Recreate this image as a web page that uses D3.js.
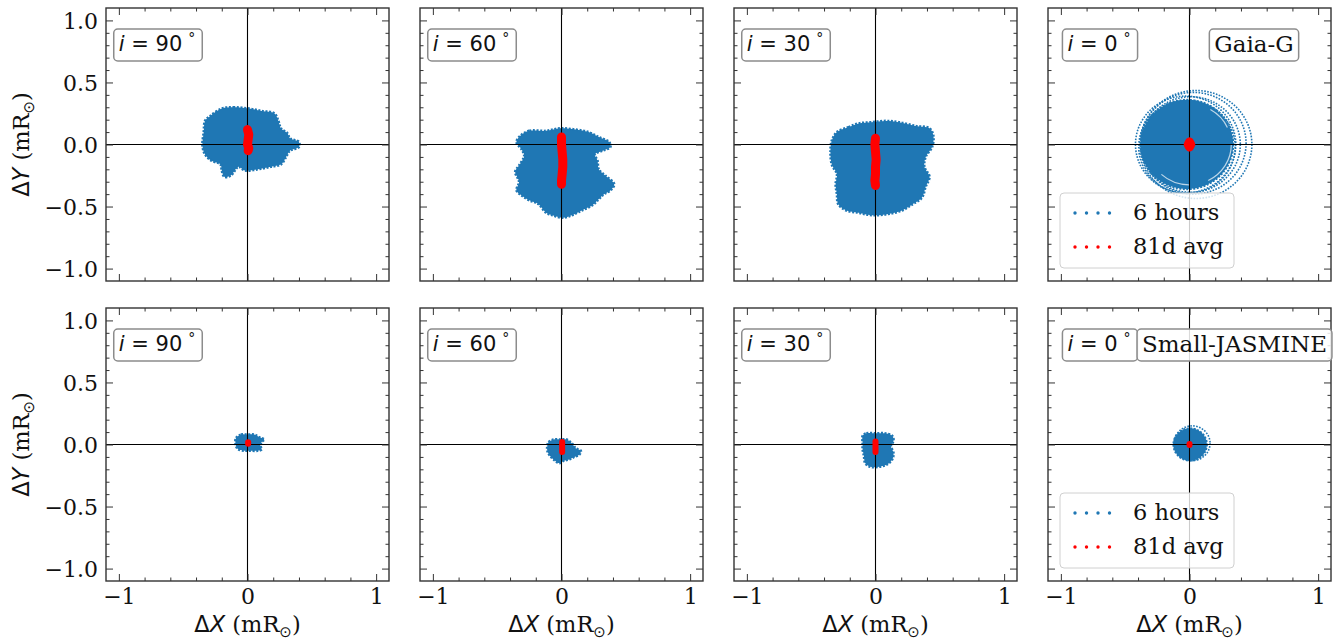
<!DOCTYPE html>
<html><head><meta charset="utf-8">
<script src="https://cdn.jsdelivr.net/npm/d3@7"></script>
<style>body{margin:0;background:#fff}svg{display:block}</style>
</head><body>
<svg id="c" width="1343" height="642"></svg>
<script>
// ---------------- data ----------------
const inclinations = [90, 60, 30, 0];
const missions = ["Gaia-G", "Small-JASMINE"];
const xMajorTicks = [-1, 0, 1];
const xTickLabels = ["−1", "0", "1"];
const yMajorTicks = [-1, -0.5, 0, 0.5, 1];
const yTickLabels = ["−1.0", "−0.5", "0.0", "0.5", "1.0"];
const xMinorTicks = [-0.8, -0.6, -0.4, -0.2, 0.2, 0.4, 0.6, 0.8];
const yMinorTicks = [-0.9, -0.8, -0.7, -0.6, -0.4, -0.3, -0.2, -0.1, 0.1, 0.2, 0.3, 0.4, 0.6, 0.7, 0.8, 0.9];
const legendLabels = ["6 hours", "81d avg"];

// Gaia-G, 6-hour samples: outline of the scatter cloud (ΔX, ΔY)
const gaiaCloud90 = [[-0.20,0.29],[-0.11,0.30],[0.01,0.29],[0.11,0.27],[0.21,0.25],[0.24,0.19],[0.26,0.13],[0.31,0.09],[0.33,0.05],[0.40,0.02],[0.40,-0.02],[0.33,-0.05],[0.30,-0.10],[0.26,-0.16],[0.18,-0.18],[0.08,-0.20],[-0.02,-0.21],[-0.07,-0.18],[-0.13,-0.25],[-0.18,-0.26],[-0.20,-0.21],[-0.21,-0.16],[-0.28,-0.13],[-0.33,-0.08],[-0.35,-0.01],[-0.34,0.10],[-0.33,0.19],[-0.29,0.23]];
const gaiaCloud60 = [[-0.32,0.07],[-0.25,0.11],[-0.12,0.11],[-0.01,0.13],[0.11,0.12],[0.21,0.10],[0.29,0.06],[0.37,0.02],[0.38,-0.02],[0.32,-0.05],[0.26,-0.08],[0.28,-0.13],[0.29,-0.20],[0.34,-0.25],[0.41,-0.32],[0.38,-0.37],[0.33,-0.40],[0.29,-0.44],[0.24,-0.49],[0.16,-0.53],[0.08,-0.57],[0.01,-0.59],[-0.07,-0.57],[-0.12,-0.55],[-0.18,-0.48],[-0.25,-0.45],[-0.31,-0.41],[-0.35,-0.37],[-0.33,-0.30],[-0.36,-0.22],[-0.33,-0.17],[-0.29,-0.09],[-0.31,-0.04],[-0.35,0.02]];
const gaiaCloud30 = [[-0.30,0.10],[-0.21,0.14],[-0.13,0.17],[-0.03,0.18],[0.08,0.19],[0.18,0.18],[0.31,0.15],[0.42,0.13],[0.45,0.07],[0.44,-0.02],[0.39,-0.10],[0.38,-0.18],[0.42,-0.26],[0.39,-0.34],[0.36,-0.43],[0.29,-0.48],[0.21,-0.53],[0.10,-0.56],[-0.03,-0.57],[-0.13,-0.55],[-0.23,-0.53],[-0.29,-0.48],[-0.30,-0.40],[-0.31,-0.32],[-0.30,-0.24],[-0.34,-0.16],[-0.35,-0.05],[-0.34,0.03]];
// i = 0: dense disk [cx, cy, r], looser outer rings and inner gaps [cx, cy, r]
const gaiaDisk0 = [-0.02, 0.0, 0.36];
const gaiaRings0 = [[0.01,0.0,0.385],[0.03,0.01,0.41],[0.05,0.0,0.435],[-0.02,-0.02,0.375],[-0.03,0.0,0.39]];
const gaiaGaps0 = [[0.0,0.0,0.325]];

// Gaia-G, 81-day average track
const gaiaAvg90 = [[0.0,0.12],[0.01,0.08],[0.005,0.04],[0.0,0.0],[0.01,-0.03],[0.005,-0.05]];
const gaiaAvg60 = [[0.0,0.06],[0.0,0.0],[0.005,-0.06],[0.01,-0.12],[0.01,-0.18],[0.005,-0.24],[0.0,-0.29],[0.0,-0.32]];
const gaiaAvg30 = [[0.0,0.05],[-0.005,0.0],[0.0,-0.06],[0.005,-0.12],[0.0,-0.18],[0.0,-0.24],[-0.005,-0.29],[0.0,-0.33]];
const gaiaAvg0 = [[0.0,0.02],[0.01,0.0],[0.0,-0.02],[-0.01,0.0],[0.0,0.02]];

// Small-JASMINE, 6-hour samples
const sjCloud90 = [[-0.09,0.05],[-0.05,0.08],[0.0,0.08],[0.05,0.08],[0.09,0.06],[0.13,0.04],[0.11,0.02],[0.10,-0.01],[0.11,-0.04],[0.08,-0.05],[0.02,-0.05],[-0.02,-0.05],[-0.07,-0.04],[-0.09,-0.01]];
const sjCloud60 = [[-0.11,-0.01],[-0.10,0.02],[-0.06,0.04],[-0.01,0.04],[0.04,0.04],[0.08,0.01],[0.11,-0.03],[0.15,-0.05],[0.14,-0.08],[0.10,-0.10],[0.06,-0.12],[0.02,-0.13],[-0.02,-0.15],[-0.05,-0.13],[-0.09,-0.09],[-0.11,-0.05]];
const sjCloud30 = [[-0.10,0.07],[-0.07,0.09],[0.0,0.09],[0.07,0.09],[0.13,0.07],[0.14,0.03],[0.12,-0.01],[0.14,-0.07],[0.13,-0.12],[0.09,-0.16],[0.03,-0.18],[-0.04,-0.18],[-0.08,-0.15],[-0.09,-0.09],[-0.10,-0.04],[-0.10,0.01]];
const sjDisk0 = [0.005, 0.0, 0.13];
const sjRings0 = [[0.02,0.01,0.14]];
const sjGaps0 = [];

// Small-JASMINE, 81-day average track
const sjAvg90 = [[0.005,0.018],[0.005,0.006]];
const sjAvg60 = [[0.005,0.02],[0.005,-0.02],[0.005,-0.06]];
const sjAvg30 = [[0.0,0.025],[0.0,-0.02],[0.0,-0.06]];
const sjAvg0 = [[0.0,0.005],[0.0,-0.005]];

// ---------------- layout ----------------
const BLUE = "#1f77b4", RED = "#ff0000";
const SERIF = "'DejaVu Serif', serif", SANS = "'DejaVu Sans', sans-serif";
const colLeft = [106, 420, 734, 1048], rowTop = [8, 308], PW = 283, PH = 273;
const clouds = [[gaiaCloud90, gaiaCloud60, gaiaCloud30, null], [sjCloud90, sjCloud60, sjCloud30, null]];
const disks = [gaiaDisk0, sjDisk0];
const rings = [gaiaRings0, sjRings0];
const gaps = [gaiaGaps0, sjGaps0];
const avgs = [[gaiaAvg90, gaiaAvg60, gaiaAvg30, gaiaAvg0], [sjAvg90, sjAvg60, sjAvg30, sjAvg0]];
const avgWidth = [9, 6];
const missionCenter = [206, 186.5];
const TICKFS = 22, LABFS = 22.5;

const svg = d3.select("#c");
const x = d3.scaleLinear().domain([-1.1, 1.1]).range([0, PW]);
const y = d3.scaleLinear().domain([-1.1, 1.1]).range([PH, 0]);
const line = d3.line().x(d => x(d[0])).y(d => y(d[1]));
const cloudLine = d3.line().x(d => x(d[0])).y(d => y(d[1])).curve(d3.curveCatmullRomClosed.alpha(0.5));

svg.append("defs").append("clipPath").attr("id", "clip")
  .append("rect").attr("width", PW).attr("height", PH);

const ellipse = (sel, e) => sel.append("ellipse").attr("cx", x(e[0])).attr("cy", y(e[1]))
  .attr("rx", x(e[2]) - x(0)).attr("ry", y(0) - y(e[2]));

rowTop.forEach((top, r) => {
  colLeft.forEach((left, c) => {
    const g = svg.append("g").attr("transform", `translate(${left},${top})`);
    const p = g.append("g").attr("clip-path", "url(#clip)");

    // 6-hour cloud
    const cl = clouds[r][c];
    if (cl) {
      p.append("path").attr("d", cloudLine(cl))
        .attr("fill", BLUE).attr("stroke", BLUE).attr("stroke-width", 2.6)
        .attr("stroke-dasharray", "2 1.6");
    } else {
      rings[r].forEach(rg => {
        ellipse(p, rg).attr("fill", "none").attr("stroke", BLUE).attr("stroke-width", 1.6)
          .attr("stroke-dasharray", "1.6 1.4");
      });
      ellipse(p, disks[r]).attr("fill", BLUE).attr("stroke", BLUE).attr("stroke-width", 2)
        .attr("stroke-dasharray", "2 1.5");
      gaps[r].forEach(gp => {
        ellipse(p, gp).attr("fill", "none").attr("stroke", "#fff").attr("stroke-opacity", 0.7)
          .attr("stroke-width", 1.2).attr("stroke-dasharray", "45 20 30 120 25 18");
      });
    }

    // zero lines
    p.append("line").attr("x1", x(0)).attr("x2", x(0)).attr("y1", 0).attr("y2", PH)
      .attr("stroke", "#000").attr("stroke-width", 1.1);
    p.append("line").attr("x1", 0).attr("x2", PW).attr("y1", y(0)).attr("y2", y(0))
      .attr("stroke", "#000").attr("stroke-width", 1.1);

    // 81-day average
    p.append("path").attr("d", line(avgs[r][c]))
      .attr("fill", "none").attr("stroke", RED).attr("stroke-width", avgWidth[r])
      .attr("stroke-linecap", "round").attr("stroke-linejoin", "round");

    // axes / ticks (inward, all four sides)
    const showX = r === 1, showY = c === 0;
    const addAxis = (gen, tr, vals, size, labels) => {
      const a = g.append("g").attr("transform", tr)
        .call(gen.tickValues(vals).tickSize(size).tickPadding(7)
          .tickFormat(labels ? (d, i) => labels[i] : ""));
      a.select(".domain").remove();
      a.selectAll("line").attr("stroke", "#333").attr("stroke-width", 1);
      a.selectAll("text").attr("font-family", SERIF).attr("font-size", TICKFS).attr("fill", "#111");
      return a;
    };
    addAxis(d3.axisBottom(x), `translate(0,${PH})`, xMajorTicks, -7, showX ? xTickLabels : null);
    addAxis(d3.axisBottom(x), `translate(0,${PH})`, xMinorTicks, -3.5, null);
    addAxis(d3.axisTop(x), `translate(0,0)`, xMajorTicks, -7, null);
    addAxis(d3.axisTop(x), `translate(0,0)`, xMinorTicks, -3.5, null);
    const ya = addAxis(d3.axisLeft(y), `translate(0,0)`, yMajorTicks, -7, showY ? yTickLabels : null);
    ya.selectAll("text").attr("x", -8).attr("dy", "0.38em");
    addAxis(d3.axisLeft(y), `translate(0,0)`, yMinorTicks, -3.5, null);
    addAxis(d3.axisRight(y), `translate(${PW},0)`, yMajorTicks, -7, null);
    addAxis(d3.axisRight(y), `translate(${PW},0)`, yMinorTicks, -3.5, null);

    // frame
    g.append("rect").attr("width", PW).attr("height", PH)
      .attr("fill", "none").attr("stroke", "#333").attr("stroke-width", 1.4);

    // inclination label box
    const lab = g.append("g");
    const t = lab.append("text").attr("x", 51).attr("y", 43)
      .attr("text-anchor", "middle").attr("font-family", SANS).attr("font-size", 21).attr("fill", "#111");
    t.append("tspan").attr("font-style", "italic").text("i");
    t.append("tspan").text(` = ${inclinations[c]}`);
    t.append("tspan").attr("font-size", 14).attr("dx", 6).attr("dy", -8).text("°");
    const bb = t.node().getBBox();
    lab.insert("rect", "text").attr("x", bb.x - 5).attr("y", 21)
      .attr("width", bb.width + 12).attr("height", 32).attr("rx", 4)
      .attr("fill", "#fff").attr("fill-opacity", 0.85).attr("stroke", "#8c8c8c").attr("stroke-width", 1.5);

    if (c === 3) {
      // mission label box
      const m = g.append("g");
      const mt = m.append("text").attr("x", missionCenter[r]).attr("y", 44)
        .attr("text-anchor", "middle").attr("font-family", SERIF).attr("font-size", 23)
        .attr("fill", "#111").text(missions[r]);
      const mb = mt.node().getBBox();
      m.insert("rect", "text").attr("x", mb.x - 5).attr("y", 21)
        .attr("width", mb.width + 10).attr("height", 32).attr("rx", 4)
        .attr("fill", "#fff").attr("fill-opacity", 0.85).attr("stroke", "#8c8c8c").attr("stroke-width", 1.5);

      // legend
      const lg = g.append("g").attr("transform", "translate(12,185)");
      lg.append("rect").attr("width", 174).attr("height", 75).attr("rx", 4)
        .attr("fill", "#fff").attr("fill-opacity", 0.8).attr("stroke", "#d0d0d0").attr("stroke-width", 1);
      [BLUE, RED].forEach((col, k) => {
        const ry = 20 + k * 34;
        d3.range(4).forEach(j => {
          lg.append("circle").attr("cx", 15 + j * 11.5).attr("cy", ry).attr("r", 1.7).attr("fill", col);
        });
        lg.append("text").attr("x", 73).attr("y", ry + 7).attr("font-family", SERIF)
          .attr("font-size", LABFS).attr("fill", "#111").text(legendLabels[k]);
      });
    }

    // axis labels
    const axisLabel = (sel, letter) => {
      sel.append("tspan").attr("font-family", SANS).text("Δ");
      sel.append("tspan").attr("font-family", SANS).attr("font-style", "italic").text(letter);
      sel.append("tspan").attr("font-family", SERIF).text(" (mR");
      sel.append("tspan").attr("font-family", SANS).attr("font-size", 15).attr("dy", 5).text("⊙");
      sel.append("tspan").attr("font-family", SERIF).attr("dy", -5).text(")");
    };
    if (showY) {
      const yt = g.append("text").attr("transform", `translate(${29 - left},${PH / 2}) rotate(-90)`)
        .attr("text-anchor", "middle").attr("font-size", LABFS).attr("fill", "#111");
      axisLabel(yt, "Y");
    }
    if (showX) {
      const xt = g.append("text").attr("x", x(0)).attr("y", 632 - top)
        .attr("text-anchor", "middle").attr("font-size", LABFS).attr("fill", "#111");
      axisLabel(xt, "X");
    }
  });
});
</script>
</body></html>
